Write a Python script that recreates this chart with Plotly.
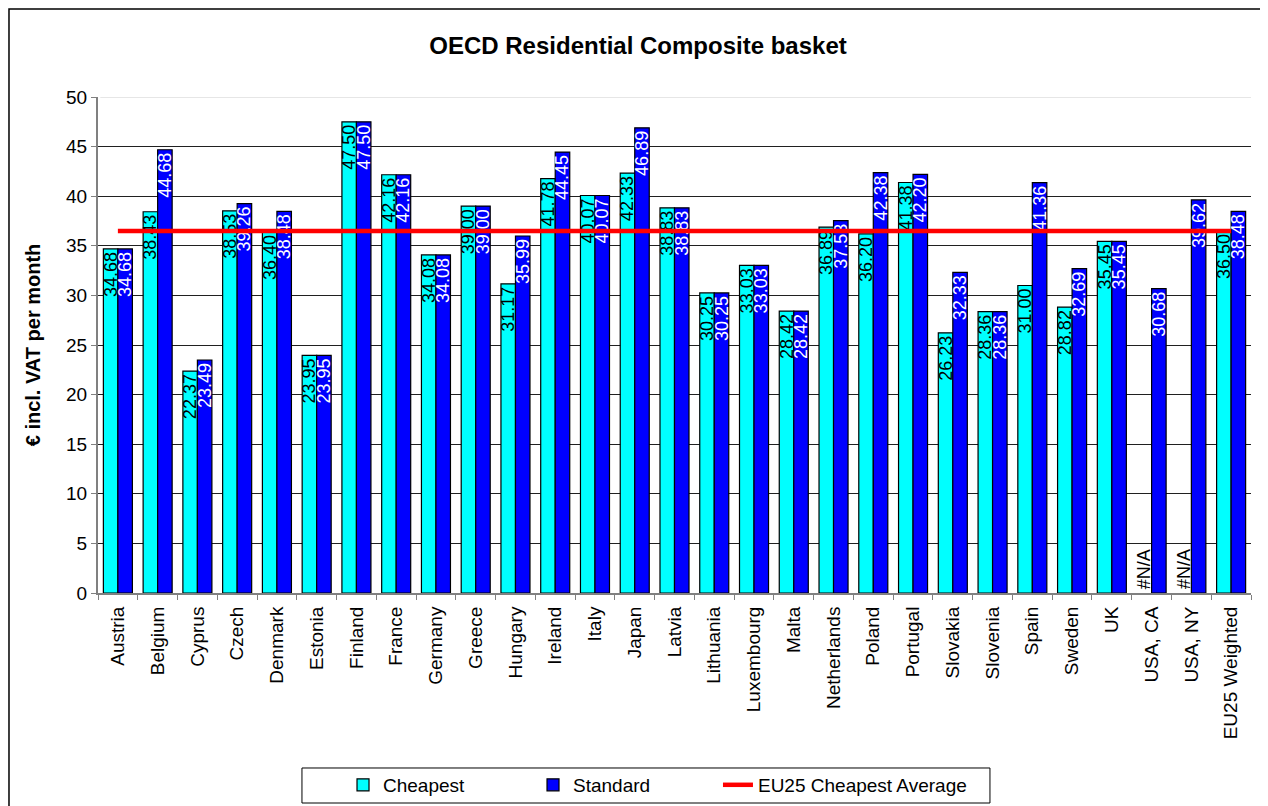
import plotly.graph_objects as go

countries = ["Austria", "Belgium", "Cyprus", "Czech", "Denmark", "Estonia", "Finland", "France",
             "Germany", "Greece", "Hungary", "Ireland", "Italy", "Japan", "Latvia", "Lithuania",
             "Luxembourg", "Malta", "Netherlands", "Poland", "Portugal", "Slovakia", "Slovenia",
             "Spain", "Sweden", "UK", "USA, CA", "USA, NY", "EU25 Weighted"]
cheapest = [34.68, 38.43, 22.37, 38.53, 36.40, 23.95, 47.50, 42.16, 34.08, 39.00, 31.17, 41.78,
            40.07, 42.33, 38.83, 30.25, 33.03, 28.42, 36.89, 36.20, 41.38, 26.23, 28.36, 31.00,
            28.82, 35.45, None, None, 36.50]
standard = [34.68, 44.68, 23.49, 39.26, 38.48, 23.95, 47.50, 42.16, 34.08, 39.00, 35.99, 44.45,
            40.07, 46.89, 38.83, 30.25, 33.03, 28.42, 37.53, 42.38, 42.20, 32.33, 28.36, 41.36,
            32.69, 35.45, 30.68, 39.62, 38.48]
eu25_avg = 36.50
y_max = 50

FONT = "Arial, 'Liberation Sans', sans-serif"

def fmt(v):
    return "" if v is None else f"{v:.2f}"

fig = go.Figure()
fig.add_trace(go.Bar(
    x=countries, y=cheapest, name="Cheapest", legend="legend",
    marker=dict(color="#00FFFF", line=dict(color="black", width=1.2)),
    text=[fmt(v) for v in cheapest], textposition="inside", insidetextanchor="end",
    textangle=-90, constraintext="none",
    textfont=dict(family=FONT, size=18, color="black"),
))
fig.add_trace(go.Bar(
    x=countries, y=standard, name="Standard", legend="legend",
    marker=dict(color="#0000FF", line=dict(color="black", width=1.2)),
    text=[fmt(v) for v in standard], textposition="inside", insidetextanchor="end",
    textangle=-90, constraintext="none",
    textfont=dict(family=FONT, size=18, color="white"),
))
fig.add_trace(go.Scatter(
    x=countries, y=[eu25_avg] * len(countries), name="EU25 Cheapest Average",
    legend="legend2",
    mode="lines", line=dict(color="#FF0000", width=4.5),
))

for c, v in zip(countries, cheapest):
    if v is None:
        fig.add_annotation(x=c, y=0, xref="x", yref="y", text="#N/A", showarrow=False,
                           textangle=-90, yanchor="bottom", xanchor="center", xshift=-7.3,
                           yshift=2, font=dict(family=FONT, size=18, color="black"))

# outer chart border
fig.add_shape(type="rect", xref="paper", yref="paper",
              x0=-0.0772, x1=1.0113, y0=-0.44, y1=1.1774,
              line=dict(color="black", width=1.5), fillcolor="rgba(0,0,0,0)", layer="below")
# light top gridline
fig.add_shape(type="line", xref="paper", yref="y", x0=0.002, x1=1, y0=y_max, y1=y_max,
              line=dict(color="#e6e6e6", width=2), layer="between")
# legend box
fig.add_shape(type="rect", xref="paper", yref="paper",
              x0=0.1769, x1=0.7736, y0=-0.4234, y1=-0.3528,
              line=dict(color="black", width=1), fillcolor="white", layer="below")

legend_common = dict(orientation="h", yanchor="middle", y=-0.387, xanchor="left",
                     bgcolor="rgba(0,0,0,0)", borderwidth=0,
                     font=dict(family=FONT, size=19, color="black"))

fig.update_layout(
    width=1260, height=798,
    margin=dict(l=90, r=17, t=89, b=213, autoexpand=False),
    paper_bgcolor="white", plot_bgcolor="white",
    barmode="group", bargap=0.27, bargroupgap=0,
    font=dict(family=FONT, color="black"),
    title=dict(text="<b>OECD Residential Composite basket</b>", x=0.5, xanchor="center",
               y=0.953, yanchor="middle", font=dict(family=FONT, size=24, color="black")),
    showlegend=True,
    legend=dict(x=0.2125, entrywidth=145, traceorder="normal", **legend_common),
    legend2=dict(x=0.5377, **legend_common),
    xaxis=dict(tickangle=-90, tickfont=dict(family=FONT, size=19, color="black"),
               showline=True, linecolor="#808080", linewidth=2, automargin=False,
               ticks="outside", tickson="boundaries", ticklen=5, tickcolor="#808080",
               ticklabelstandoff=4, showgrid=False),
    yaxis=dict(range=[0, y_max], dtick=5, tickfont=dict(family=FONT, size=19, color="black"),
               showline=True, linecolor="#808080", linewidth=2, automargin=False,
               ticks="outside", ticklen=5, tickcolor="#808080",
               showgrid=True, gridcolor="#202020", gridwidth=1, zeroline=False,
               title=dict(text="<b>€ incl. VAT per month</b>", standoff=20,
                          font=dict(family=FONT, size=20, color="black"))),
)

fig.write_html("out.html")
